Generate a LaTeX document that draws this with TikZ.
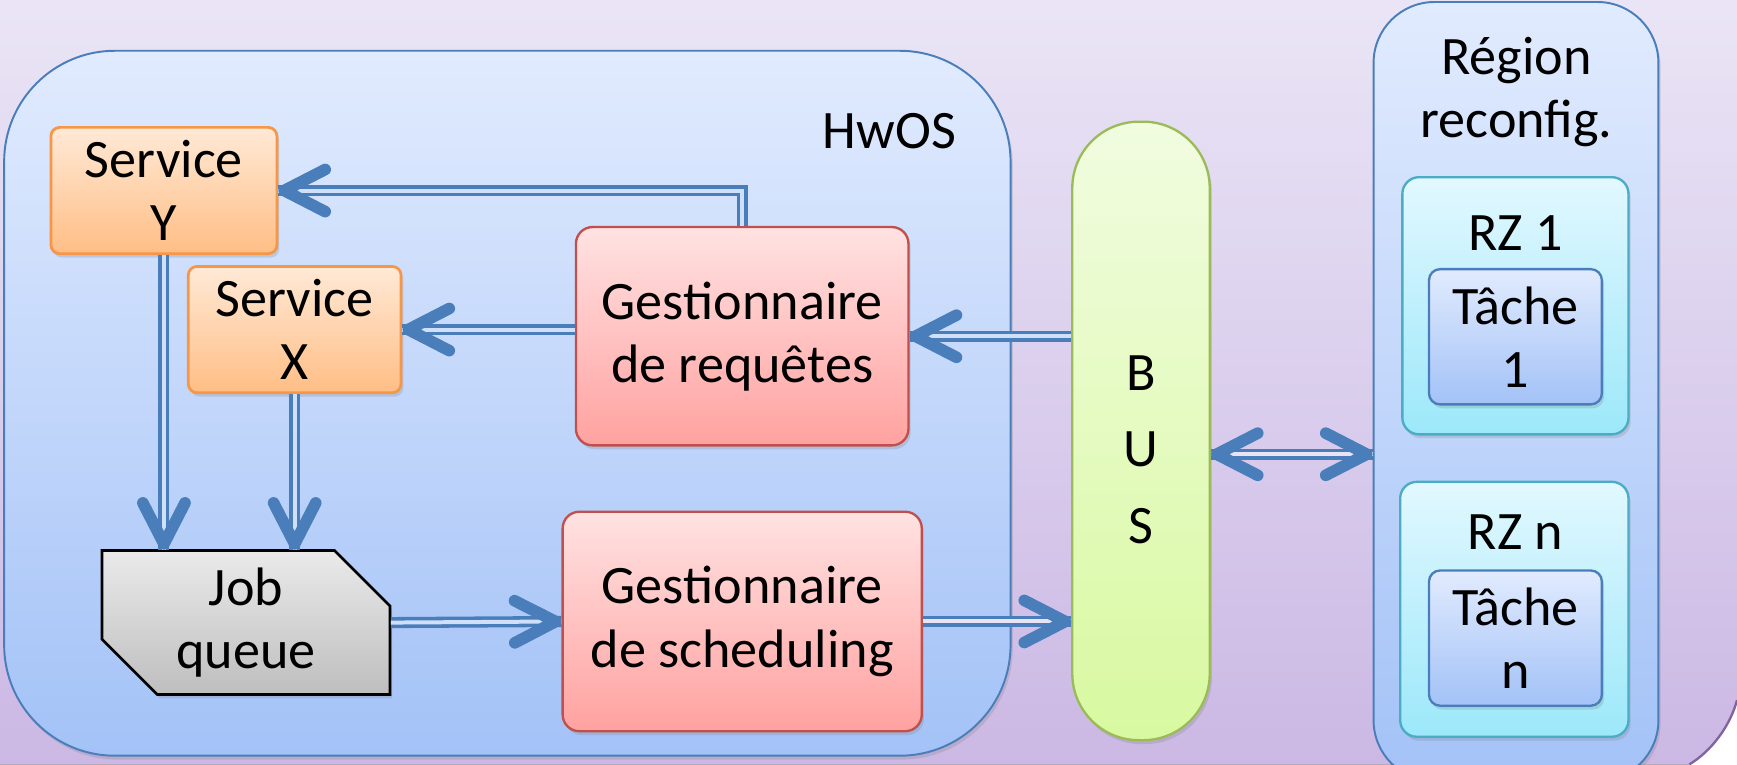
\documentclass[tikz,border=0pt]{standalone}
\usepackage{fontspec}
\setmainfont{Carlito}
\usepackage{tikz}
\usetikzlibrary{positioning, shadows, arrows.meta, decorations.markings}

\definecolor{bgtop}{RGB}{234,229,246}
\definecolor{bgbot}{RGB}{203,184,228}
\definecolor{framecol}{RGB}{74,126,187}
\definecolor{bluetop}{RGB}{225,235,254}
\definecolor{bluebot}{RGB}{163,194,247}
\definecolor{orangetop}{RGB}{255,233,214}
\definecolor{orangebot}{RGB}{255,190,133}
\definecolor{orangeline}{RGB}{247,150,70}
\definecolor{redtop}{RGB}{255,226,226}
\definecolor{redbot}{RGB}{255,162,160}
\definecolor{redline}{RGB}{192,80,77}
\definecolor{greytop}{RGB}{234,234,234}
\definecolor{greybot}{RGB}{190,190,190}
\definecolor{greentop}{RGB}{241,252,224}
\definecolor{greenbot}{RGB}{216,249,160}
\definecolor{greenline}{RGB}{155,187,89}
\definecolor{cyantop}{RGB}{226,248,255}
\definecolor{cyanbot}{RGB}{156,232,250}
\definecolor{cyanline}{RGB}{75,172,198}
\definecolor{gapblue}{RGB}{208,224,251}
\definecolor{gaplav}{RGB}{232,228,246}
\definecolor{curlcol}{RGB}{128,100,162}

\begin{document}
\begin{tikzpicture}[
x=0.01cm, y=-0.01cm,
shadowed/.style={drop shadow={opacity=0.25, shadow xshift=0.02cm, shadow yshift=-0.035cm}},
bigpanel/.style={rectangle, draw=framecol, line width=0.5pt, top color=bluetop, bottom color=bluebot, shadowed},
servicenode/.style={rectangle, rounded corners=0.08cm, draw=orangeline, line width=0.7pt, top color=orangetop, bottom color=orangebot, shadowed},
managernode/.style={rectangle, rounded corners=0.15cm, draw=redline, line width=0.6pt, top color=redtop, bottom color=redbot, shadowed},
queueshape/.style={draw=black, line width=0.7pt, top color=greytop, bottom color=greybot, shadowed},
busnode/.style={rectangle, rounded corners=0.6cm, draw=greenline, line width=0.6pt, top color=greentop, bottom color=greenbot, shadowed},
zonenode/.style={rectangle, rounded corners=0.15cm, draw=cyanline, line width=0.6pt, top color=cyantop, bottom color=cyanbot, shadowed},
tasknode/.style={rectangle, rounded corners=0.1cm, draw=framecol, line width=0.6pt, top color=bluetop, bottom color=bluebot, shadowed},
dbl/.style={draw=framecol, line width=0.1cm,
  postaction={draw=#1, line width=0.036cm},
  postaction={decorate, decoration={markings, mark=at position 1 with {\arrow[framecol, line width=1.05mm]{Straight Barb[length=3.7mm, width=3.8mm, round]}}}}},
dbl/.default=gapblue,
twoway/.style={dbl=#1,
  postaction={decorate, decoration={markings, mark=at position 0 with {\arrowreversed[framecol, line width=1.05mm]{Straight Barb[length=3.7mm, width=3.8mm, round]}}}}}]
\tikzstyle{every node}=[font=\fontsize{13.9}{16.2}\selectfont, align=center]

\useasboundingbox (0,0) rectangle (1568,690);
\clip (0,0) rectangle (1568,690);
\fill[white] (0,0) rectangle (1568,690);
\fill[top color=bgtop, bottom color=bgbot] (0,0) -- (1568,0) -- (1568,632)
  .. controls (1562,655) and (1545,678) .. (1525,690) -- (0,690) -- cycle;
\draw[curlcol, line width=0.6pt] (1568,632) .. controls (1562,655) and (1545,678) .. (1525,690);

% HwOS side
\node[bigpanel, rounded corners=1cm, minimum width=9.08cm, minimum height=6.36cm] (hwos) at (458,364) {};
\node (hwoslabel) at (803,118) {HwOS};
\node[servicenode, minimum width=2.04cm, minimum height=1.08cm] (servy) at (148,172) {Service\\Y};
\node[servicenode, minimum width=1.92cm, minimum height=1.05cm] (servx) at (266,297.5) {Service\\X};
\node[managernode, minimum width=3cm, minimum height=1.97cm] (req) at (670,303.5) {Gestionnaire\\de requêtes};
\node[managernode, minimum width=3.24cm, minimum height=1.98cm] (sched) at (670,561) {Gestionnaire\\de scheduling};
\path[queueshape] (92,497) -- (302,497) -- (352,547) -- (352,627) -- (142,627) -- (92,577) -- cycle;
\node[minimum width=2.6cm, minimum height=1.3cm] (job) at (222,562) {Job\\queue};

% bus
\node[busnode, minimum width=1.24cm, minimum height=5.58cm] (bus) at (1030,389) {};
\node (buslabel) at (1030,406) {B\\[0.12cm]U\\[0.12cm]S};

% reconfigurable side
\node[bigpanel, rounded corners=0.55cm, minimum width=2.57cm, minimum height=7.03cm] (region) at (1368.5,353.5) {};
\node (regionlabel) at (1369,83) {Région\\reconfig.};
\node[zonenode, minimum width=2.04cm, minimum height=2.32cm] (rz1) at (1368,276) {};
\node (rz1label) at (1368,210) {RZ 1};
\node[tasknode, minimum width=1.56cm, minimum height=1.22cm] (t1) at (1368,304) {Tâche\\1};
\node[zonenode, minimum width=2.06cm, minimum height=2.3cm] (rzn) at (1367,550) {};
\node (rznlabel) at (1368,480) {RZ n};
\node[tasknode, minimum width=1.56cm, minimum height=1.22cm] (tn) at (1368,576) {Tâche\\n};

\draw[dbl] (req.north) |- (servy.east);
\draw[dbl] (req.west |- servx.east) -- (servx.east);
\draw[dbl] (bus.west |- req.east) -- (req.east);
\draw[dbl] (servy.south) -- (servy.south |- job.north);
\draw[dbl] (servx.south) -- (servx.south |- job.north);
\draw[dbl] (job.east) -- (sched.west);
\draw[dbl=gaplav] (sched.east) -- (sched.east -| bus.west);
\coordinate (busio) at ([yshift=-0.21cm]bus.east);
\draw[twoway=gaplav] (busio) -- (busio -| region.west);
\end{tikzpicture}
\end{document}
